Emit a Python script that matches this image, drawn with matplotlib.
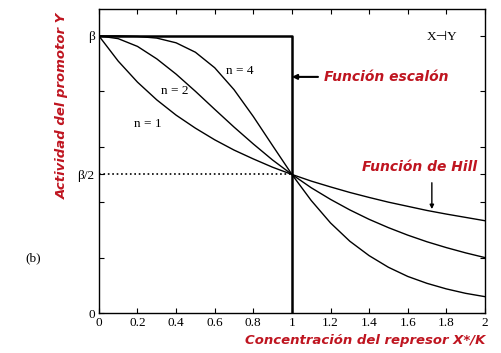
import numpy as np
import matplotlib.pyplot as plt

# values (x = X*/K, y in units of beta)
x = [0.0, 0.1, 0.2, 0.3, 0.4, 0.5, 0.6, 0.7, 0.8, 0.9, 1.0,
     1.1, 1.2, 1.3, 1.4, 1.5, 1.6, 1.7, 1.8, 1.9, 2.0]
y_n1 = [1.000, 0.909, 0.833, 0.769, 0.714, 0.667, 0.625, 0.588, 0.556, 0.526, 0.500,
        0.476, 0.455, 0.435, 0.417, 0.400, 0.385, 0.370, 0.357, 0.345, 0.333]
y_n2 = [1.000, 0.990, 0.962, 0.917, 0.862, 0.800, 0.735, 0.671, 0.610, 0.552, 0.500,
        0.452, 0.410, 0.372, 0.338, 0.308, 0.281, 0.257, 0.236, 0.217, 0.200]
y_n4 = [1.000, 1.000, 0.998, 0.992, 0.975, 0.941, 0.885, 0.806, 0.709, 0.604, 0.500,
        0.406, 0.325, 0.259, 0.207, 0.165, 0.132, 0.107, 0.087, 0.071, 0.059]
step_x = [0.0, 1.0, 1.0]
step_y = [1.0, 1.0, 0.0]
half_x = [0.0, 1.0]
half_y = [0.5, 0.5]

xticks = [0, 0.2, 0.4, 0.6, 0.8, 1, 1.2, 1.4, 1.6, 1.8, 2]
xticklabels = ['0', '0.2', '0.4', '0.6', '0.8', '1', '1.2', '1.4', '1.6', '1.8', '2']
yticks = [0, 0.2, 0.4, 0.5, 0.6, 0.8, 1.0]
yticklabels = ['0', '', '', 'β/2', '', '', 'β']

red = '#bf1520'
serif = ['Liberation Serif', 'DejaVu Serif']

fig = plt.figure(figsize=(5.02, 3.53), dpi=100)
ax = fig.add_axes([0.197, 0.1133, 0.769, 0.8612])

ax.plot(x, y_n1, color='k', lw=1.0)
ax.plot(x, y_n2, color='k', lw=1.0)
ax.plot(x, y_n4, color='k', lw=1.0)
ax.plot(step_x, step_y, color='k', lw=1.8)
ax.plot(half_x, half_y, color='k', lw=1.2, ls=':')

ax.set_xlim(0, 2)
ax.set_ylim(0, 1.097)
ax.set_xticks(xticks)
ax.set_xticklabels(xticklabels, family=serif, fontsize=9.5)
ax.set_yticks(yticks)
ax.set_yticklabels(yticklabels, family=serif, fontsize=9.5)
ax.tick_params(direction='in', top=True, right=True, length=3.5, width=0.8, pad=3)
for s in ax.spines.values():
    s.set_linewidth(1.0)

ax.text(0.73, 0.874, 'n = 4', family=serif, fontsize=9.5, ha='center', va='center')
ax.text(0.394, 0.80, 'n = 2', family=serif, fontsize=9.5, ha='center', va='center')
ax.text(0.254, 0.682, 'n = 1', family=serif, fontsize=9.5, ha='center', va='center')
ax.text(1.777, 0.996, 'X⊣Y', family=['Liberation Serif', 'DejaVu Sans'], fontsize=9.5,
        ha='center', va='center')
ax.text(-0.342, 0.199, '(b)', family=serif, fontsize=9.5, ha='center', va='center',
        clip_on=False)

ax.text(1.487, 0.852, 'Función escalón', color=red, fontsize=10, fontweight='bold',
        fontstyle='italic', ha='center', va='center')
ax.text(1.663, 0.527, 'Función de Hill', color=red, fontsize=10, fontweight='bold',
        fontstyle='italic', ha='center', va='center')
ax.annotate('', xy=(1.0, 0.852), xytext=(1.135, 0.852),
            arrowprops=dict(arrowstyle='-|>', color='k', lw=1.5, mutation_scale=7,
                            shrinkA=0, shrinkB=0))
ax.annotate('', xy=(1.725, 0.375), xytext=(1.725, 0.47),
            arrowprops=dict(arrowstyle='-|>', color='k', lw=1.0, mutation_scale=6,
                            shrinkA=0, shrinkB=0))

ax.set_ylabel('Actividad del promotor Y', color=red, fontsize=9.5, fontweight='bold',
              fontstyle='italic')
ax.yaxis.set_label_coords(-0.078, 0.68)
ax.set_xlabel('Concentración del represor X*/K', color=red, fontsize=9.5,
              fontweight='bold', fontstyle='italic')
ax.xaxis.set_label_coords(0.69, -0.068)

fig.savefig('out.png', dpi=100)
